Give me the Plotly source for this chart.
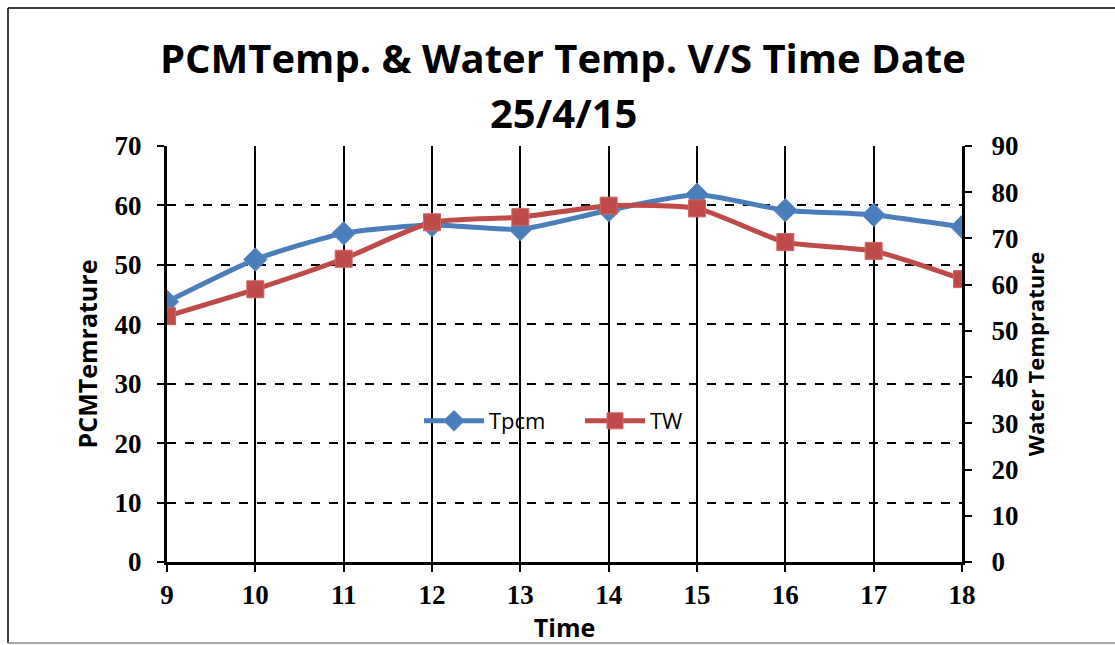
import plotly.graph_objects as go

# Hourly readings on 25/4/15
time_h = [9, 10, 11, 12, 13, 14, 15, 16, 17, 18]
t_pcm = [43.8, 50.9, 55.3, 56.7, 56.0, 59.2, 61.8, 59.2, 58.4, 56.4]
t_water = [53.2, 59.0, 65.6, 73.5, 74.6, 77.1, 76.5, 69.2, 67.3, 61.2]

left_ticks = [0, 10, 20, 30, 40, 50, 60, 70]
right_ticks = [0, 10, 20, 30, 40, 50, 60, 70, 80, 90]

BLUE = "#4A7EBB"
RED = "#BE4B48"
TICK_FONT = dict(family="Liberation Serif", size=27, color="black", weight="bold")
LABEL_FONT = "Open Sans"

fig = go.Figure()
fig.add_trace(go.Scatter(
    x=time_h, y=t_pcm, name="Tpcm", mode="lines+markers",
    line=dict(color=BLUE, width=5, shape="spline", smoothing=0.6),
    marker=dict(symbol="diamond", size=18, color=BLUE, line=dict(color="#5A8DCB", width=1)),
    yaxis="y",
))
fig.add_trace(go.Scatter(
    x=time_h, y=t_water, name="TW", mode="lines+markers",
    line=dict(color=RED, width=5, shape="spline", smoothing=0.6),
    marker=dict(symbol="square", size=17, color=RED, line=dict(color="#D26662", width=1)),
    yaxis="y2",
))

L, R, T, B = 167, 153, 146, 83
W, H = 1115, 645
pw, ph = W - L - R, H - T - B

def px_x(x):
    return (x - L) / pw

def px_y(y):
    return (H - B - y) / ph

shapes = [
    # outer chart frame
    dict(type="line", xref="paper", yref="paper", x0=px_x(8), x1=px_x(8), y0=px_y(8), y1=px_y(643),
         line=dict(color="black", width=1.5)),
    dict(type="line", xref="paper", yref="paper", x0=px_x(8), x1=px_x(1120), y0=px_y(8), y1=px_y(8),
         line=dict(color="black", width=1.5)),
    dict(type="line", xref="paper", yref="paper", x0=px_x(8), x1=px_x(1120), y0=px_y(643), y1=px_y(643),
         line=dict(color="#888888", width=1.5)),
]

annotations = [
    dict(text="<b>PCMTemp. & Water Temp. V/S Time Date</b>", xref="paper", yref="paper",
         x=px_x(563), y=px_y(57), showarrow=False, xanchor="center", yanchor="middle",
         font=dict(family=LABEL_FONT, size=40, color="black")),
    dict(text="<b>25/4/15</b>", xref="paper", yref="paper",
         x=px_x(563), y=px_y(112), showarrow=False, xanchor="center", yanchor="middle",
         font=dict(family=LABEL_FONT, size=40, color="black")),
]

fig.update_layout(
    width=W, height=H,
    margin=dict(l=L, r=R, t=T, b=B),
    paper_bgcolor="white", plot_bgcolor="white",
    showlegend=True,
    legend=dict(orientation="h", x=px_x(419), xanchor="left", y=px_y(421), yanchor="middle",
                font=dict(family=LABEL_FONT, size=22, color="black"),
                bgcolor="rgba(0,0,0,0)", itemwidth=60, entrywidth=86, entrywidthmode="pixels",
                tracegroupgap=0),
    xaxis=dict(
        range=[9, 18], tickvals=time_h, ticktext=[str(t) for t in time_h],
        showgrid=True, gridcolor="black", gridwidth=2,
        showline=True, linecolor="black", linewidth=3,
        ticks="outside", ticklen=7, tickwidth=2, tickcolor="black",
        tickfont=TICK_FONT, ticklabelstandoff=0,
        title=dict(text="<b>Time</b>", font=dict(family=LABEL_FONT, size=25, color="black"), standoff=3),
        zeroline=False,
    ),
    yaxis=dict(
        range=[0, 70], tickvals=left_ticks,
        showgrid=True, gridcolor="black", gridwidth=1.5, griddash="dash",
        showline=True, linecolor="black", linewidth=3,
        ticks="outside", ticklen=7, tickwidth=2, tickcolor="black",
        tickfont=TICK_FONT, ticklabelstandoff=10,
        title=dict(text="<b>PCMTemrature</b>", font=dict(family=LABEL_FONT, size=25, color="black"), standoff=10),
        zeroline=False,
    ),
    yaxis2=dict(
        range=[0, 90], tickvals=right_ticks, overlaying="y", side="right",
        showgrid=False,
        showline=True, linecolor="black", linewidth=3,
        ticks="outside", ticklen=7, tickwidth=2, tickcolor="black",
        tickfont=TICK_FONT, ticklabelstandoff=14,
        title=dict(text="<b>Water Temprature</b>", font=dict(family=LABEL_FONT, size=22, color="black"), standoff=12),
        zeroline=False,
    ),
    shapes=shapes,
    annotations=annotations,
)

fig.write_html("out.html")
